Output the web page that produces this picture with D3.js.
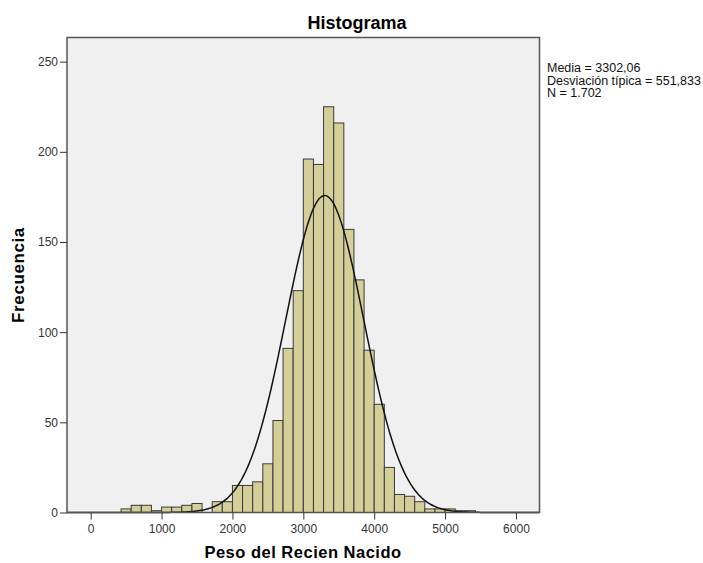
<!DOCTYPE html>
<html>
<head>
<meta charset="utf-8">
<script src="https://cdn.jsdelivr.net/npm/d3@7"></script>
<style>
  body { margin: 0; background: #fff; }
  text { font-family: "Liberation Sans", Arial, sans-serif; }
</style>
</head>
<body>
<div id="chart"></div>
<script>
// histogram data
var binWidth = 1000 / 7;
var firstEdge = 3 * binWidth;           // first non-empty bin starts at 428.57
var counts = [2, 4, 4, 1, 3, 3, 4, 5, 0, 6, 6,
              15, 15, 17, 27, 51, 91, 123,
              196, 193, 225, 216, 157, 129, 90, 60,
              25, 10, 9, 6, 2, 2, 2, 1, 1];
var xTicks = [0, 1000, 2000, 3000, 4000, 5000, 6000];
var yTicks = [0, 50, 100, 150, 200, 250];
var statLines = ["Media = 3302,06", "Desviación típica = 551,833", "N = 1.702"];
var mean = 3302.06, sd = 551.833, n = 1702;

var width = 703, height = 563;

var svg = d3.select("#chart").append("svg")
	.attr("width", width)
	.attr("height", height);

// scales
var x = d3.scaleLinear().domain([-334, 6332]).range([67, 539.5]);
var y = d3.scaleLinear().domain([0, 263.4]).range([512.5, 37.5]);

// plot background
svg.append("rect")
	.attr("x", x.range()[0])
	.attr("y", y.range()[1])
	.attr("width", x.range()[1] - x.range()[0])
	.attr("height", y.range()[0] - y.range()[1])
	.attr("fill", "#f0f0f0");

// bars
var bins = counts.map(function(c, i){
	return { x0: firstEdge + i * binWidth, x1: firstEdge + (i + 1) * binWidth, count: c };
});

svg.selectAll(".bar")
	.data(bins.filter(d => d.count > 0)).enter()
	.append("rect")
	.attr("class", "bar")
	.attr("x", d => x(d.x0))
	.attr("width", d => x(d.x1) - x(d.x0))
	.attr("y", d => y(d.count))
	.attr("height", d => y(0) - y(d.count))
	.attr("fill", "#d4cf98")
	.attr("stroke", "#3a3a3a")
	.attr("stroke-width", 1);

// fitted normal curve
var scaleFactor = n * binWidth / (sd * Math.sqrt(2 * Math.PI));
var curveX = d3.range(x.domain()[0], x.domain()[1], 20);
var line = d3.line()
	.x(d => x(d))
	.y(d => y(scaleFactor * Math.exp(-0.5 * Math.pow((d - mean) / sd, 2))))
	.curve(d3.curveBasis);

svg.append("path")
	.datum(curveX)
	.attr("d", line)
	.attr("fill", "none")
	.attr("stroke", "#111")
	.attr("stroke-width", 1.5);

// frame
svg.append("rect")
	.attr("x", x.range()[0])
	.attr("y", y.range()[1])
	.attr("width", x.range()[1] - x.range()[0])
	.attr("height", y.range()[0] - y.range()[1])
	.attr("fill", "none")
	.attr("stroke", "#555")
	.attr("stroke-width", 1.5);

// axes
var xAxis = d3.axisBottom(x).tickValues(xTicks).tickSize(7).tickFormat(d3.format("d"));
var yAxis = d3.axisLeft(y).tickValues(yTicks).tickSize(7).tickFormat(d3.format("d"));

var gx = svg.append("g")
	.attr("transform", "translate(0," + y.range()[0] + ")")
	.call(xAxis);
var gy = svg.append("g")
	.attr("transform", "translate(" + x.range()[0] + ",0)")
	.call(yAxis);

[gx, gy].forEach(function(g){
	g.select(".domain").remove();
	g.selectAll(".tick line").attr("stroke", "#333");
	g.selectAll(".tick text")
		.attr("fill", "#333")
		.style("font-size", "12px")
		.style("font-family", "'Liberation Sans', Arial, sans-serif");
});
gx.selectAll(".tick text").attr("dy", "0.9em");
gy.selectAll(".tick text").attr("x", -9);

// titles
svg.append("text")
	.attr("x", 357)
	.attr("y", 29)
	.attr("text-anchor", "middle")
	.style("font-size", "18px")
	.style("font-weight", "bold")
	.text("Histograma");

svg.append("text")
	.attr("x", 303)
	.attr("y", 558)
	.attr("text-anchor", "middle")
	.style("font-size", "16.5px")
	.style("font-weight", "bold")
	.style("letter-spacing", "0.5px")
	.text("Peso del Recien Nacido");

svg.append("text")
	.attr("transform", "translate(24,275) rotate(-90)")
	.attr("text-anchor", "middle")
	.style("font-size", "17px")
	.style("font-weight", "bold")
	.style("letter-spacing", "0.6px")
	.text("Frecuencia");

// stats box
svg.selectAll(".stat")
	.data(statLines).enter()
	.append("text")
	.attr("class", "stat")
	.attr("x", 547)
	.attr("y", (d, i) => 72 + i * 12.5)
	.style("font-size", "12.5px")
	.attr("fill", "#111")
	.text(d => d);
</script>
</body>
</html>
